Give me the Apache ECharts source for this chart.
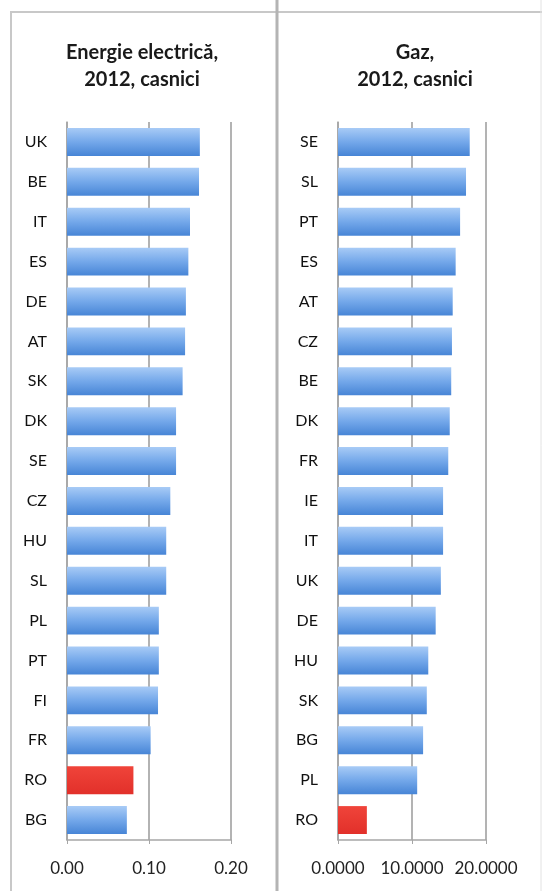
<!DOCTYPE html>
<html>
<head>
<meta charset="utf-8">
<script src="https://cdn.jsdelivr.net/npm/echarts@6/dist/echarts.min.js"></script>
<style>
  html, body { margin: 0; padding: 0; background: #fff; }
  #chart { width: 542px; height: 891px; }
</style>
</head>
<body>
<div id="chart"></div>
<script>
// energie electrica, 2012, casnici (top to bottom)
var elecCountries = ['UK', 'BE', 'IT', 'ES', 'DE', 'AT', 'SK', 'DK', 'SE', 'CZ', 'HU', 'SL', 'PL', 'PT', 'FI', 'FR', 'RO', 'BG']
var elecValues = [0.162, 0.161, 0.150, 0.148, 0.145, 0.144, 0.141, 0.133, 0.133, 0.126, 0.121, 0.121, 0.112, 0.112, 0.111, 0.102, 0.081, 0.073]

// gaz, 2012, casnici (top to bottom)
var gasCountries = ['SE', 'SL', 'PT', 'ES', 'AT', 'CZ', 'BE', 'DK', 'FR', 'IE', 'IT', 'UK', 'DE', 'HU', 'SK', 'BG', 'PL', 'RO']
var gasValues = [17.8, 17.3, 16.5, 15.9, 15.5, 15.4, 15.3, 15.1, 14.9, 14.2, 14.2, 13.9, 13.2, 12.2, 12.0, 11.5, 10.7, 3.9]

var highlight = 'RO'

var blue = new echarts.graphic.LinearGradient(0, 0, 0, 1, [
  { offset: 0, color: '#a8cbf6' },
  { offset: 0.5, color: '#74a8ea' },
  { offset: 1, color: '#4785d6' }
])
var red = new echarts.graphic.LinearGradient(0, 0, 0, 1, [
  { offset: 0, color: '#f0443a' },
  { offset: 1, color: '#e2302a' }
])

function barData(names, values) {
  return values.map(function (v, i) {
    return { value: v, itemStyle: { color: names[i] === highlight ? red : blue } }
  })
}

var gray = '#a6a6a6'
var font = 'Lato, "Open Sans", sans-serif'

function yAxis(gridIndex, names) {
  return {
    type: 'category',
    gridIndex: gridIndex,
    inverse: true,
    data: names,
    axisLine: { lineStyle: { color: gray, width: 1.5 } },
    axisTick: { length: 5, lineStyle: { color: gray } },
    axisLabel: { color: '#111', fontSize: 16, fontFamily: font, margin: 20 }
  }
}

function xAxis(gridIndex, max, interval, digits) {
  return {
    type: 'value',
    gridIndex: gridIndex,
    min: 0,
    max: max,
    interval: interval,
    axisLine: { show: true, lineStyle: { color: gray, width: 1.5 } },
    axisTick: { show: true, length: 4, lineStyle: { color: gray } },
    splitLine: { lineStyle: { color: '#9a9a9a', width: 1.5 } },
    axisLabel: {
      color: '#222', fontSize: 17, fontFamily: font, margin: 20,
      formatter: function (v) { return v.toFixed(digits) }
    }
  }
}

var chart = echarts.init(document.getElementById('chart'))
chart.setOption({
  animation: false,
  backgroundColor: '#fff',
  title: [
    {
      text: 'Energie electrică,\n2012, casnici',
      left: 137, top: 34, textAlign: 'center',
      textStyle: { fontSize: 20, lineHeight: 27, fontWeight: 'bold', color: '#1a1a1a', fontFamily: font }
    },
    {
      text: 'Gaz,\n2012, casnici',
      left: 410, top: 34, textAlign: 'center',
      textStyle: { fontSize: 20, lineHeight: 27, fontWeight: 'bold', color: '#1a1a1a', fontFamily: font }
    }
  ],
  grid: [
    { left: 67, right: 311, top: 122, bottom: 51 },
    { left: 338, right: 56, top: 122, bottom: 51 }
  ],
  xAxis: [xAxis(0, 0.2, 0.1, 2), xAxis(1, 20, 10, 4)],
  yAxis: [yAxis(0, elecCountries), yAxis(1, gasCountries)],
  series: [
    {
      type: 'bar', xAxisIndex: 0, yAxisIndex: 0,
      barCategoryGap: '30%',
      data: barData(elecCountries, elecValues)
    },
    {
      type: 'bar', xAxisIndex: 1, yAxisIndex: 1,
      barCategoryGap: '30%',
      data: barData(gasCountries, gasValues)
    }
  ],
  graphic: [
    // sheet frame lines
    { type: 'line', shape: { x1: 10, y1: 12, x2: 542, y2: 12 }, style: { stroke: '#c8c8c8', lineWidth: 2 } },
    { type: 'line', shape: { x1: 11, y1: 12, x2: 11, y2: 891 }, style: { stroke: '#c8c8c8', lineWidth: 2 } },
    { type: 'line', shape: { x1: 277, y1: 0, x2: 277, y2: 891 }, style: { stroke: '#b4b4b4', lineWidth: 3 } },
    { type: 'line', shape: { x1: 541, y1: 0, x2: 541, y2: 891 }, style: { stroke: '#e2e2e2', lineWidth: 1 } }
  ]
})
</script>
</body>
</html>
